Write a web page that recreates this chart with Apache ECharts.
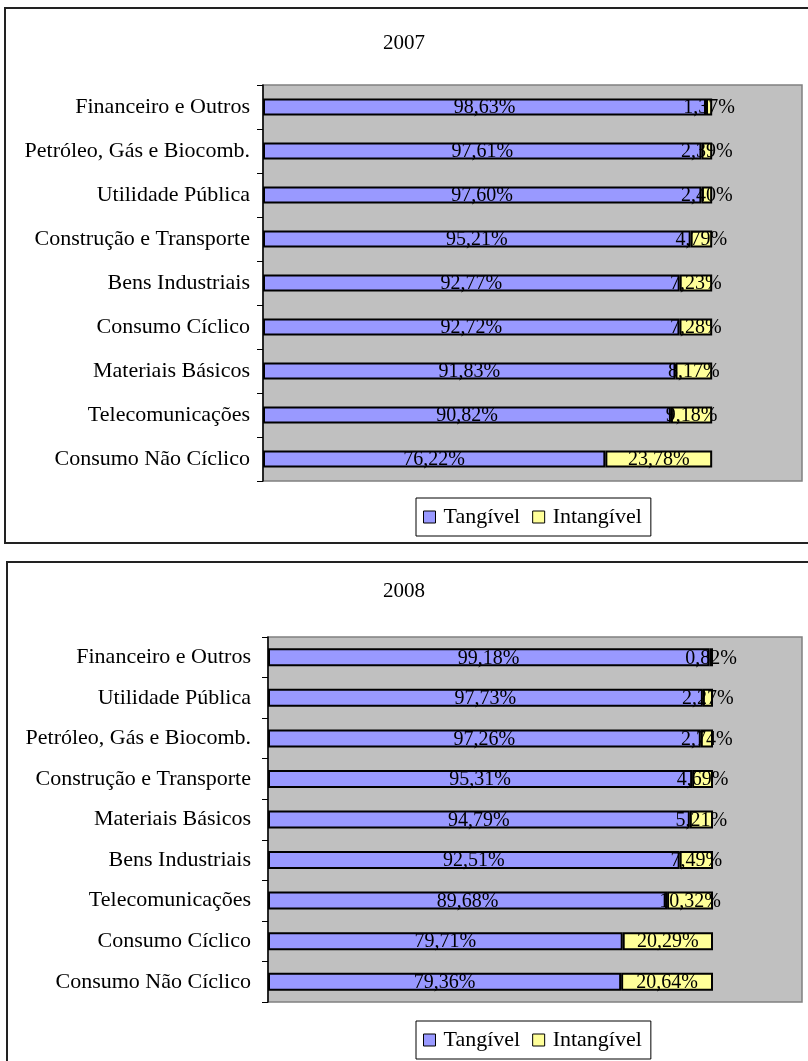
<!DOCTYPE html>
<html>
<head>
<meta charset="utf-8">
<script src="https://cdn.jsdelivr.net/npm/echarts@6/dist/echarts.min.js"></script>
<style>
  html, body { margin: 0; padding: 0; background: #fff; overflow: hidden; }
  #chart { width: 808px; height: 1061px; }
</style>
</head>
<body>
<div id="chart"></div>
<script>
const cats2007 = ["Financeiro e Outros", "Petróleo, Gás e Biocomb.", "Utilidade Pública", "Construção e Transporte",
    "Bens Industriais", "Consumo Cíclico", "Materiais Básicos", "Telecomunicações", "Consumo Não Cíclico"];
const tang2007 = [98.63, 97.61, 97.60, 95.21, 92.77, 92.72, 91.83, 90.82, 76.22];
const intang2007 = [1.37, 2.39, 2.40, 4.79, 7.23, 7.28, 8.17, 9.18, 23.78];

const cats2008 = ["Financeiro e Outros", "Utilidade Pública", "Petróleo, Gás e Biocomb.", "Construção e Transporte",
    "Materiais Básicos", "Bens Industriais", "Telecomunicações", "Consumo Cíclico", "Consumo Não Cíclico"];
const tang2008 = [99.18, 97.73, 97.26, 95.31, 94.79, 92.51, 89.68, 79.71, 79.36];
const intang2008 = [0.82, 2.27, 2.74, 4.69, 5.21, 7.49, 10.32, 20.29, 20.64];

const titles = ["2007", "2008"];
const seriesNames = ["Tangível", "Intangível"];

const FONT = '"Liberation Serif", "DejaVu Serif", serif';
const BLUE = "#9999FF";
const YELLOW = "#FFFF99";

function pct(p) {
    return p.value.toFixed(2).replace(".", ",") + "%";
}

function barSeries(name, data, color, idx, barW) {
    return {
        name: name,
        type: "bar",
        stack: "s" + idx,
        xAxisIndex: idx,
        yAxisIndex: idx,
        data: data,
        barWidth: barW,
        itemStyle: { color: color, borderColor: "#000", borderWidth: 2 },
        label: {
            show: true,
            position: "inside",
            offset: [0, 1],
            formatter: pct,
            color: "#000",
            fontFamily: FONT,
            fontSize: 20,
            textBorderWidth: 0
        },
        emphasis: { disabled: true },
        silent: true
    };
}

function yAxisCfg(idx, cats, margin) {
    return {
        type: "category",
        gridIndex: idx,
        data: cats,
        inverse: true,
        axisLine: { show: true, lineStyle: { color: "#000", width: 1.5 } },
        axisTick: { show: true, length: 6, lineStyle: { color: "#000" } },
        axisLabel: { color: "#000", fontFamily: FONT, fontSize: 22, margin: margin }
    };
}

function xAxisCfg(idx) {
    return {
        type: "value",
        gridIndex: idx,
        min: 0,
        max: 120,
        show: false,
        splitLine: { show: false }
    };
}

function legendCfg(top) {
    return {
        data: seriesNames,
        top: top,
        left: 416,
        orient: "horizontal",
        itemWidth: 12,
        itemHeight: 12,
        itemGap: 12,
        padding: [8, 9, 8, 7],
        borderColor: "#000",
        borderWidth: 1,
        icon: "rect",
        itemStyle: { borderColor: "#000", borderWidth: 1 },
        textStyle: { color: "#000", fontFamily: FONT, fontSize: 22, padding: [0, 0, 0, 3] },
        selectedMode: false
    };
}

const gridStyle = {
    show: true,
    backgroundColor: "#C0C0C0",
    borderColor: "#808080",
    borderWidth: 1.5,
    containLabel: false
};

const chart = echarts.init(document.getElementById("chart"), null, { renderer: "canvas" });
chart.setOption({
    backgroundColor: "#fff",
    animation: false,
    title: [
        { text: titles[0], left: "center", top: 33, padding: 0,
          textStyle: { fontFamily: FONT, fontSize: 21, fontWeight: "normal", color: "#000" } },
        { text: titles[1], left: "center", top: 581, padding: 0,
          textStyle: { fontFamily: FONT, fontSize: 21, fontWeight: "normal", color: "#000" } }
    ],
    legend: [legendCfg(498), legendCfg(1021)],
    grid: [
        Object.assign({ left: 263, top: 85, right: 6, height: 396 }, gridStyle),
        Object.assign({ left: 268, top: 637, right: 6, height: 365 }, gridStyle)
    ],
    xAxis: [xAxisCfg(0), xAxisCfg(1)],
    yAxis: [yAxisCfg(0, cats2007, 13), yAxisCfg(1, cats2008, 17)],
    series: [
        barSeries(seriesNames[0], tang2007, BLUE, 0, 17),
        barSeries(seriesNames[1], intang2007, YELLOW, 0, 17),
        barSeries(seriesNames[0], tang2008, BLUE, 1, 18),
        barSeries(seriesNames[1], intang2008, YELLOW, 1, 18)
    ],
    graphic: [
        { type: "rect", shape: { x: 5, y: 8, width: 830, height: 535 },
          style: { fill: "none", stroke: "#222", lineWidth: 2 }, silent: true, z: 100 },
        { type: "rect", shape: { x: 7, y: 562, width: 830, height: 530 },
          style: { fill: "none", stroke: "#222", lineWidth: 2 }, silent: true, z: 100 }
    ]
});
</script>
</body>
</html>
